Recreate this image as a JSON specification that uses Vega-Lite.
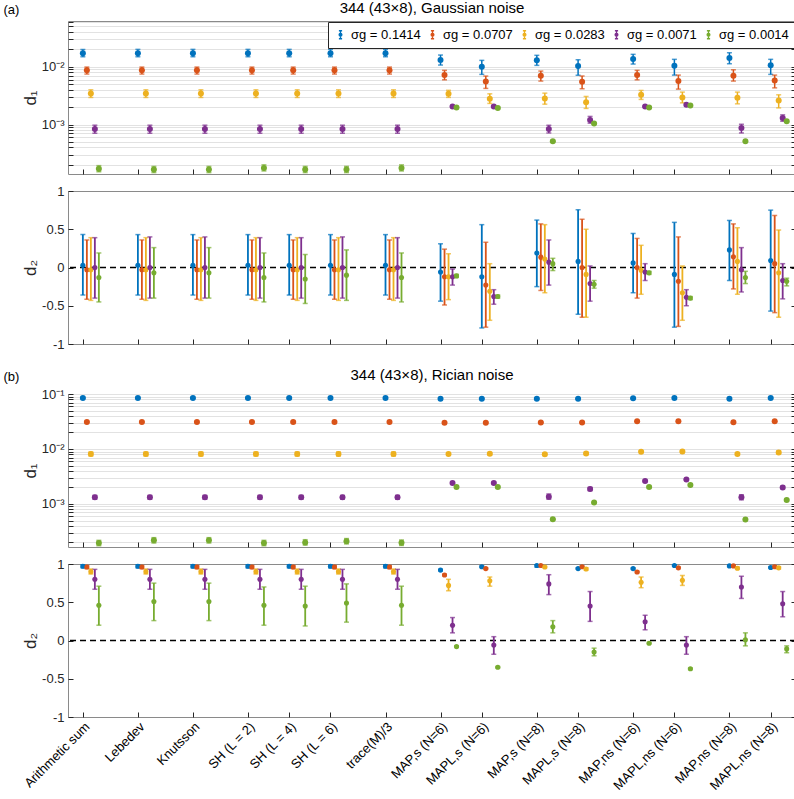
{
"$schema": "https://vega.github.io/schema/vega-lite/v6.json",
"background": "white",
"padding": {"left": 3, "top": 0, "right": 4, "bottom": 2},
"config": {
  "font": "Liberation Sans",
  "view": {"stroke": "#8a8a8a", "strokeWidth": 1},
  "axis": {"labelFontSize": 13, "labelColor": "#262626", "tickColor": "#262626", "domain": false, "titleFontSize": 17, "titleFontWeight": "normal", "titleColor": "#262626", "labelFont": "Liberation Sans", "titleFont": "Liberation Sans"},
  "axisLeft": {"titleX": -38, "titleBaseline": "middle"},
  "title": {"fontSize": 15, "fontWeight": "normal", "color": "#000000", "font": "Liberation Sans"}
},
"datasets": {
"g1": [
{"m":1,"s":"0.1414","v":0.0171,"lo":0.0149,"hi":0.02},{"m":1,"s":"0.0707","v":0.00866,"lo":0.00747,"hi":0.00988},{"m":1,"s":"0.0283","v":0.00345,"lo":0.00294,"hi":0.00399},{"m":1,"s":"0.0071","v":0.00084,"lo":0.000706,"hi":0.000973},{"m":1,"s":"0.0014","v":0.000172,"lo":0.000152,"hi":0.000194},
{"m":2,"s":"0.1414","v":0.0171,"lo":0.0149,"hi":0.02},{"m":2,"s":"0.0707","v":0.00866,"lo":0.00747,"hi":0.00988},{"m":2,"s":"0.0283","v":0.00345,"lo":0.00294,"hi":0.00399},{"m":2,"s":"0.0071","v":0.00084,"lo":0.000706,"hi":0.000973},{"m":2,"s":"0.0014","v":0.000166,"lo":0.000147,"hi":0.000188},
{"m":3,"s":"0.1414","v":0.0171,"lo":0.0149,"hi":0.02},{"m":3,"s":"0.0707","v":0.00866,"lo":0.00747,"hi":0.00988},{"m":3,"s":"0.0283","v":0.00345,"lo":0.00294,"hi":0.00399},{"m":3,"s":"0.0071","v":0.00084,"lo":0.000706,"hi":0.000973},{"m":3,"s":"0.0014","v":0.000166,"lo":0.000147,"hi":0.000188},
{"m":4,"s":"0.1414","v":0.0171,"lo":0.0149,"hi":0.02},{"m":4,"s":"0.0707","v":0.00866,"lo":0.00747,"hi":0.00988},{"m":4,"s":"0.0283","v":0.00345,"lo":0.00294,"hi":0.00399},{"m":4,"s":"0.0071","v":0.00084,"lo":0.000706,"hi":0.000973},{"m":4,"s":"0.0014","v":0.000177,"lo":0.000157,"hi":0.0002},
{"m":4.75,"s":"0.1414","v":0.0171,"lo":0.0149,"hi":0.02},{"m":4.75,"s":"0.0707","v":0.00866,"lo":0.00747,"hi":0.00988},{"m":4.75,"s":"0.0283","v":0.00345,"lo":0.00294,"hi":0.00399},{"m":4.75,"s":"0.0071","v":0.00084,"lo":0.000706,"hi":0.000973},{"m":4.75,"s":"0.0014","v":0.000166,"lo":0.000147,"hi":0.000188},
{"m":5.5,"s":"0.1414","v":0.0171,"lo":0.0149,"hi":0.02},{"m":5.5,"s":"0.0707","v":0.00866,"lo":0.00747,"hi":0.00988},{"m":5.5,"s":"0.0283","v":0.00345,"lo":0.00294,"hi":0.00399},{"m":5.5,"s":"0.0071","v":0.00084,"lo":0.000706,"hi":0.000973},{"m":5.5,"s":"0.0014","v":0.000166,"lo":0.000147,"hi":0.000188},
{"m":6.5,"s":"0.1414","v":0.0171,"lo":0.0149,"hi":0.02},{"m":6.5,"s":"0.0707","v":0.00866,"lo":0.00747,"hi":0.00988},{"m":6.5,"s":"0.0283","v":0.00345,"lo":0.00294,"hi":0.00399},{"m":6.5,"s":"0.0071","v":0.00084,"lo":0.000706,"hi":0.000973},{"m":6.5,"s":"0.0014","v":0.000177,"lo":0.000157,"hi":0.0002},
{"m":7.5,"s":"0.1414","v":0.01305,"lo":0.0107,"hi":0.01596},{"m":7.5,"s":"0.0707","v":0.00717,"lo":0.00594,"hi":0.00866},{"m":7.5,"s":"0.0283","v":0.0034,"lo":0.00295,"hi":0.00391},{"m":7.5,"s":"0.0071","v":0.00205,"lo":0.00199,"hi":0.00211},{"m":7.5,"s":"0.0014","v":0.00197,"lo":0.00191,"hi":0.00203},
{"m":8.25,"s":"0.1414","v":0.01,"lo":0.00738,"hi":0.0129},{"m":8.25,"s":"0.0707","v":0.00558,"lo":0.00422,"hi":0.0069},{"m":8.25,"s":"0.0283","v":0.00278,"lo":0.00232,"hi":0.0034},{"m":8.25,"s":"0.0071","v":0.00205,"lo":0.00199,"hi":0.00211},{"m":8.25,"s":"0.0014","v":0.00194,"lo":0.00188,"hi":0.002},
{"m":9.25,"s":"0.1414","v":0.0129,"lo":0.01057,"hi":0.01578},{"m":9.25,"s":"0.0707","v":0.00698,"lo":0.00565,"hi":0.00842},{"m":9.25,"s":"0.0283","v":0.00282,"lo":0.00225,"hi":0.00349},{"m":9.25,"s":"0.0071","v":0.00084,"lo":0.000714,"hi":0.00097},{"m":9.25,"s":"0.0014","v":0.000513,"lo":0.000498,"hi":0.000528},
{"m":10,"s":"0.1414","v":0.0103,"lo":0.0071,"hi":0.01324},{"m":10,"s":"0.0707","v":0.0055,"lo":0.00415,"hi":0.0069},{"m":10,"s":"0.0283","v":0.00244,"lo":0.0019,"hi":0.00306},{"m":10,"s":"0.0071","v":0.0012,"lo":0.001055,"hi":0.00138},{"m":10,"s":"0.0014","v":0.00104,"lo":0.00101,"hi":0.00107},
{"m":11,"s":"0.1414","v":0.0136,"lo":0.01114,"hi":0.0164},{"m":11,"s":"0.0707","v":0.00717,"lo":0.00594,"hi":0.00866},{"m":11,"s":"0.0283","v":0.00327,"lo":0.00272,"hi":0.00389},{"m":11,"s":"0.0071","v":0.00205,"lo":0.00199,"hi":0.00211},{"m":11,"s":"0.0014","v":0.00197,"lo":0.00191,"hi":0.00203},
{"m":11.75,"s":"0.1414","v":0.0104,"lo":0.00717,"hi":0.01344},{"m":11.75,"s":"0.0707","v":0.00565,"lo":0.0041,"hi":0.00717},{"m":11.75,"s":"0.0283","v":0.00294,"lo":0.00237,"hi":0.00364},{"m":11.75,"s":"0.0071","v":0.00219,"lo":0.00212,"hi":0.00226},{"m":11.75,"s":"0.0014","v":0.00214,"lo":0.00208,"hi":0.0022},
{"m":12.75,"s":"0.1414","v":0.01416,"lo":0.01128,"hi":0.0175},{"m":12.75,"s":"0.0707","v":0.00698,"lo":0.00565,"hi":0.00887},{"m":12.75,"s":"0.0283","v":0.0029,"lo":0.00228,"hi":0.00364},{"m":12.75,"s":"0.0071","v":0.000873,"lo":0.000714,"hi":0.00101},{"m":12.75,"s":"0.0014","v":0.000513,"lo":0.000498,"hi":0.000528},
{"m":13.5,"s":"0.1414","v":0.01057,"lo":0.00738,"hi":0.01344},{"m":13.5,"s":"0.0707","v":0.0058,"lo":0.00431,"hi":0.00717},{"m":13.5,"s":"0.0283","v":0.00261,"lo":0.00194,"hi":0.00327},{"m":13.5,"s":"0.0071","v":0.0013,"lo":0.00114,"hi":0.00147},{"m":13.5,"s":"0.0014","v":0.00114,"lo":0.0011,"hi":0.00118}
],
"g2": [
{"m":1,"s":"0.1414","v":0.03,"lo":-0.36,"hi":0.43},{"m":1,"s":"0.0707","v":-0.03,"lo":-0.415,"hi":0.36},{"m":1,"s":"0.0283","v":-0.03,"lo":-0.43,"hi":0.39},{"m":1,"s":"0.0071","v":0.0,"lo":-0.4,"hi":0.39},{"m":1,"s":"0.0014","v":-0.13,"lo":-0.45,"hi":0.19},
{"m":2,"s":"0.1414","v":0.03,"lo":-0.36,"hi":0.43},{"m":2,"s":"0.0707","v":-0.03,"lo":-0.415,"hi":0.36},{"m":2,"s":"0.0283","v":-0.03,"lo":-0.43,"hi":0.39},{"m":2,"s":"0.0071","v":0.0,"lo":-0.4,"hi":0.4},{"m":2,"s":"0.0014","v":-0.07,"lo":-0.4,"hi":0.26},
{"m":3,"s":"0.1414","v":0.03,"lo":-0.36,"hi":0.43},{"m":3,"s":"0.0707","v":-0.03,"lo":-0.415,"hi":0.36},{"m":3,"s":"0.0283","v":-0.03,"lo":-0.43,"hi":0.39},{"m":3,"s":"0.0071","v":0.0,"lo":-0.4,"hi":0.4},{"m":3,"s":"0.0014","v":-0.07,"lo":-0.4,"hi":0.26},
{"m":4,"s":"0.1414","v":0.03,"lo":-0.36,"hi":0.43},{"m":4,"s":"0.0707","v":-0.03,"lo":-0.415,"hi":0.36},{"m":4,"s":"0.0283","v":-0.03,"lo":-0.43,"hi":0.39},{"m":4,"s":"0.0071","v":0.0,"lo":-0.4,"hi":0.39},{"m":4,"s":"0.0014","v":-0.13,"lo":-0.45,"hi":0.19},
{"m":4.75,"s":"0.1414","v":0.03,"lo":-0.36,"hi":0.43},{"m":4.75,"s":"0.0707","v":-0.03,"lo":-0.415,"hi":0.36},{"m":4.75,"s":"0.0283","v":-0.03,"lo":-0.43,"hi":0.39},{"m":4.75,"s":"0.0071","v":0.0,"lo":-0.4,"hi":0.39},{"m":4.75,"s":"0.0014","v":-0.15,"lo":-0.47,"hi":0.17},
{"m":5.5,"s":"0.1414","v":0.03,"lo":-0.36,"hi":0.43},{"m":5.5,"s":"0.0707","v":-0.03,"lo":-0.415,"hi":0.36},{"m":5.5,"s":"0.0283","v":-0.03,"lo":-0.43,"hi":0.39},{"m":5.5,"s":"0.0071","v":0.0,"lo":-0.4,"hi":0.4},{"m":5.5,"s":"0.0014","v":-0.1,"lo":-0.43,"hi":0.23},
{"m":6.5,"s":"0.1414","v":0.03,"lo":-0.36,"hi":0.43},{"m":6.5,"s":"0.0707","v":-0.03,"lo":-0.415,"hi":0.36},{"m":6.5,"s":"0.0283","v":-0.03,"lo":-0.43,"hi":0.39},{"m":6.5,"s":"0.0071","v":0.0,"lo":-0.4,"hi":0.39},{"m":6.5,"s":"0.0014","v":-0.13,"lo":-0.45,"hi":0.19},
{"m":7.5,"s":"0.1414","v":-0.06,"lo":-0.44,"hi":0.31},{"m":7.5,"s":"0.0707","v":-0.12,"lo":-0.49,"hi":0.24},{"m":7.5,"s":"0.0283","v":-0.12,"lo":-0.42,"hi":0.18},{"m":7.5,"s":"0.0071","v":-0.12,"lo":-0.23,"hi":-0.02},{"m":7.5,"s":"0.0014","v":-0.11,"lo":-0.13,"hi":-0.09},
{"m":8.25,"s":"0.1414","v":-0.12,"lo":-0.79,"hi":0.56},{"m":8.25,"s":"0.0707","v":-0.23,"lo":-0.78,"hi":0.33},{"m":8.25,"s":"0.0283","v":-0.31,"lo":-0.69,"hi":0.05},{"m":8.25,"s":"0.0071","v":-0.38,"lo":-0.48,"hi":-0.29},{"m":8.25,"s":"0.0014","v":-0.38,"lo":-0.4,"hi":-0.36},
{"m":9.25,"s":"0.1414","v":0.19,"lo":-0.25,"hi":0.62},{"m":9.25,"s":"0.0707","v":0.135,"lo":-0.3,"hi":0.57},{"m":9.25,"s":"0.0283","v":0.11,"lo":-0.33,"hi":0.56},{"m":9.25,"s":"0.0071","v":0.07,"lo":-0.23,"hi":0.36},{"m":9.25,"s":"0.0014","v":0.05,"lo":-0.04,"hi":0.12},
{"m":10,"s":"0.1414","v":0.08,"lo":-0.61,"hi":0.755},{"m":10,"s":"0.0707","v":0.0,"lo":-0.65,"hi":0.63},{"m":10,"s":"0.0283","v":-0.09,"lo":-0.65,"hi":0.5},{"m":10,"s":"0.0071","v":-0.21,"lo":-0.44,"hi":0.02},{"m":10,"s":"0.0014","v":-0.22,"lo":-0.27,"hi":-0.17},
{"m":11,"s":"0.1414","v":0.06,"lo":-0.33,"hi":0.445},{"m":11,"s":"0.0707","v":0.0,"lo":-0.4,"hi":0.38},{"m":11,"s":"0.0283","v":-0.035,"lo":-0.35,"hi":0.29},{"m":11,"s":"0.0071","v":-0.06,"lo":-0.17,"hi":0.05},{"m":11,"s":"0.0014","v":-0.07,"lo":-0.09,"hi":-0.05},
{"m":11.75,"s":"0.1414","v":-0.09,"lo":-0.78,"hi":0.59},{"m":11.75,"s":"0.0707","v":-0.18,"lo":-0.77,"hi":0.4},{"m":11.75,"s":"0.0283","v":-0.33,"lo":-0.69,"hi":0.02},{"m":11.75,"s":"0.0071","v":-0.39,"lo":-0.5,"hi":-0.29},{"m":11.75,"s":"0.0014","v":-0.4,"lo":-0.42,"hi":-0.38},
{"m":12.75,"s":"0.1414","v":0.23,"lo":-0.17,"hi":0.615},{"m":12.75,"s":"0.0707","v":0.14,"lo":-0.28,"hi":0.57},{"m":12.75,"s":"0.0283","v":0.08,"lo":-0.35,"hi":0.52},{"m":12.75,"s":"0.0071","v":-0.03,"lo":-0.32,"hi":0.26},{"m":12.75,"s":"0.0014","v":-0.13,"lo":-0.21,"hi":-0.05},
{"m":13.5,"s":"0.1414","v":0.09,"lo":-0.57,"hi":0.75},{"m":13.5,"s":"0.0707","v":0.05,"lo":-0.59,"hi":0.68},{"m":13.5,"s":"0.0283","v":-0.07,"lo":-0.65,"hi":0.49},{"m":13.5,"s":"0.0071","v":-0.17,"lo":-0.41,"hi":0.05},{"m":13.5,"s":"0.0014","v":-0.18,"lo":-0.24,"hi":-0.14}
],
"r1": [
{"m":1,"s":"0.1414","v":0.0845,"lo":0.0828,"hi":0.0862},{"m":1,"s":"0.0707","v":0.031,"lo":0.0304,"hi":0.0316},{"m":1,"s":"0.0283","v":0.0081,"lo":0.00745,"hi":0.0088},{"m":1,"s":"0.0071","v":0.00132,"lo":0.00122,"hi":0.00143},{"m":1,"s":"0.0014","v":0.000195,"lo":0.000174,"hi":0.000218},
{"m":2,"s":"0.1414","v":0.0845,"lo":0.0828,"hi":0.0862},{"m":2,"s":"0.0707","v":0.031,"lo":0.0304,"hi":0.0316},{"m":2,"s":"0.0283","v":0.0081,"lo":0.00745,"hi":0.0088},{"m":2,"s":"0.0071","v":0.00132,"lo":0.00122,"hi":0.00143},{"m":2,"s":"0.0014","v":0.000218,"lo":0.000195,"hi":0.000244},
{"m":3,"s":"0.1414","v":0.0845,"lo":0.0828,"hi":0.0862},{"m":3,"s":"0.0707","v":0.031,"lo":0.0304,"hi":0.0316},{"m":3,"s":"0.0283","v":0.0081,"lo":0.00745,"hi":0.0088},{"m":3,"s":"0.0071","v":0.00132,"lo":0.00122,"hi":0.00143},{"m":3,"s":"0.0014","v":0.000218,"lo":0.000195,"hi":0.000244},
{"m":4,"s":"0.1414","v":0.0845,"lo":0.0828,"hi":0.0862},{"m":4,"s":"0.0707","v":0.031,"lo":0.0304,"hi":0.0316},{"m":4,"s":"0.0283","v":0.0081,"lo":0.00745,"hi":0.0088},{"m":4,"s":"0.0071","v":0.00132,"lo":0.00122,"hi":0.00143},{"m":4,"s":"0.0014","v":0.000195,"lo":0.000174,"hi":0.000218},
{"m":4.75,"s":"0.1414","v":0.0845,"lo":0.0828,"hi":0.0862},{"m":4.75,"s":"0.0707","v":0.031,"lo":0.0304,"hi":0.0316},{"m":4.75,"s":"0.0283","v":0.0081,"lo":0.00745,"hi":0.0088},{"m":4.75,"s":"0.0071","v":0.00132,"lo":0.00122,"hi":0.00143},{"m":4.75,"s":"0.0014","v":0.0002,"lo":0.000179,"hi":0.000224},
{"m":5.5,"s":"0.1414","v":0.0845,"lo":0.0828,"hi":0.0862},{"m":5.5,"s":"0.0707","v":0.031,"lo":0.0304,"hi":0.0316},{"m":5.5,"s":"0.0283","v":0.0081,"lo":0.00745,"hi":0.0088},{"m":5.5,"s":"0.0071","v":0.00132,"lo":0.00122,"hi":0.00143},{"m":5.5,"s":"0.0014","v":0.00021,"lo":0.000188,"hi":0.000235},
{"m":6.5,"s":"0.1414","v":0.0845,"lo":0.0828,"hi":0.0862},{"m":6.5,"s":"0.0707","v":0.031,"lo":0.0304,"hi":0.0316},{"m":6.5,"s":"0.0283","v":0.0081,"lo":0.00745,"hi":0.0088},{"m":6.5,"s":"0.0071","v":0.00132,"lo":0.00122,"hi":0.00143},{"m":6.5,"s":"0.0014","v":0.000197,"lo":0.000176,"hi":0.000221},
{"m":7.5,"s":"0.1414","v":0.0822,"lo":0.0805,"hi":0.0839},{"m":7.5,"s":"0.0707","v":0.0301,"lo":0.0295,"hi":0.0307},{"m":7.5,"s":"0.0283","v":0.0081,"lo":0.0077,"hi":0.0085},{"m":7.5,"s":"0.0071","v":0.00241,"lo":0.00233,"hi":0.00249},{"m":7.5,"s":"0.0014","v":0.00204,"lo":0.00198,"hi":0.0021},
{"m":8.25,"s":"0.1414","v":0.0822,"lo":0.0805,"hi":0.0839},{"m":8.25,"s":"0.0707","v":0.0301,"lo":0.0295,"hi":0.0307},{"m":8.25,"s":"0.0283","v":0.0082,"lo":0.0078,"hi":0.0086},{"m":8.25,"s":"0.0071","v":0.00241,"lo":0.00233,"hi":0.00249},{"m":8.25,"s":"0.0014","v":0.00203,"lo":0.00197,"hi":0.00209},
{"m":9.25,"s":"0.1414","v":0.0822,"lo":0.0805,"hi":0.0839},{"m":9.25,"s":"0.0707","v":0.0304,"lo":0.0298,"hi":0.031},{"m":9.25,"s":"0.0283","v":0.008,"lo":0.0076,"hi":0.0084},{"m":9.25,"s":"0.0071","v":0.00136,"lo":0.00122,"hi":0.00152},{"m":9.25,"s":"0.0014","v":0.000525,"lo":0.00051,"hi":0.00054},
{"m":10,"s":"0.1414","v":0.0822,"lo":0.0805,"hi":0.0839},{"m":10,"s":"0.0707","v":0.0304,"lo":0.0298,"hi":0.031},{"m":10,"s":"0.0283","v":0.0083,"lo":0.0079,"hi":0.0087},{"m":10,"s":"0.0071","v":0.00187,"lo":0.00175,"hi":0.002},{"m":10,"s":"0.0014","v":0.00106,"lo":0.00103,"hi":0.00109},
{"m":11,"s":"0.1414","v":0.0835,"lo":0.0818,"hi":0.0852},{"m":11,"s":"0.0707","v":0.0318,"lo":0.0312,"hi":0.0324},{"m":11,"s":"0.0283","v":0.00893,"lo":0.0087,"hi":0.0092},{"m":11,"s":"0.0071","v":0.00262,"lo":0.00254,"hi":0.0027},{"m":11,"s":"0.0014","v":0.00203,"lo":0.00197,"hi":0.00209},
{"m":11.75,"s":"0.1414","v":0.0845,"lo":0.0828,"hi":0.0862},{"m":11.75,"s":"0.0707","v":0.0318,"lo":0.0312,"hi":0.0324},{"m":11.75,"s":"0.0283","v":0.009,"lo":0.0086,"hi":0.0094},{"m":11.75,"s":"0.0071","v":0.0028,"lo":0.00272,"hi":0.00288},{"m":11.75,"s":"0.0014","v":0.00221,"lo":0.00215,"hi":0.00227},
{"m":12.75,"s":"0.1414","v":0.0822,"lo":0.0805,"hi":0.0839},{"m":12.75,"s":"0.0707","v":0.0307,"lo":0.0301,"hi":0.0313},{"m":12.75,"s":"0.0283","v":0.0081,"lo":0.0077,"hi":0.0085},{"m":12.75,"s":"0.0071","v":0.00132,"lo":0.00119,"hi":0.00147},{"m":12.75,"s":"0.0014","v":0.00052,"lo":0.000505,"hi":0.000535},
{"m":13.5,"s":"0.1414","v":0.0845,"lo":0.0828,"hi":0.0862},{"m":13.5,"s":"0.0707","v":0.0318,"lo":0.0312,"hi":0.0324},{"m":13.5,"s":"0.0283","v":0.00867,"lo":0.0082,"hi":0.0092},{"m":13.5,"s":"0.0071","v":0.002,"lo":0.0019,"hi":0.0021},{"m":13.5,"s":"0.0014","v":0.00118,"lo":0.00114,"hi":0.00122}
],
"r2": [
{"m":1,"s":"0.1414","v":0.97,"lo":0.95,"hi":0.99},{"m":1,"s":"0.0707","v":0.96,"lo":0.94,"hi":0.98},{"m":1,"s":"0.0283","v":0.9,"lo":0.87,"hi":0.935},{"m":1,"s":"0.0071","v":0.8,"lo":0.67,"hi":0.93},{"m":1,"s":"0.0014","v":0.46,"lo":0.2,"hi":0.71},
{"m":2,"s":"0.1414","v":0.97,"lo":0.95,"hi":0.99},{"m":2,"s":"0.0707","v":0.96,"lo":0.94,"hi":0.98},{"m":2,"s":"0.0283","v":0.9,"lo":0.87,"hi":0.935},{"m":2,"s":"0.0071","v":0.8,"lo":0.67,"hi":0.93},{"m":2,"s":"0.0014","v":0.51,"lo":0.26,"hi":0.75},
{"m":3,"s":"0.1414","v":0.97,"lo":0.95,"hi":0.99},{"m":3,"s":"0.0707","v":0.96,"lo":0.94,"hi":0.98},{"m":3,"s":"0.0283","v":0.9,"lo":0.87,"hi":0.935},{"m":3,"s":"0.0071","v":0.8,"lo":0.67,"hi":0.93},{"m":3,"s":"0.0014","v":0.51,"lo":0.26,"hi":0.75},
{"m":4,"s":"0.1414","v":0.97,"lo":0.95,"hi":0.99},{"m":4,"s":"0.0707","v":0.96,"lo":0.94,"hi":0.98},{"m":4,"s":"0.0283","v":0.9,"lo":0.87,"hi":0.935},{"m":4,"s":"0.0071","v":0.8,"lo":0.67,"hi":0.93},{"m":4,"s":"0.0014","v":0.46,"lo":0.2,"hi":0.7},
{"m":4.75,"s":"0.1414","v":0.97,"lo":0.95,"hi":0.99},{"m":4.75,"s":"0.0707","v":0.96,"lo":0.94,"hi":0.98},{"m":4.75,"s":"0.0283","v":0.9,"lo":0.87,"hi":0.935},{"m":4.75,"s":"0.0071","v":0.8,"lo":0.67,"hi":0.93},{"m":4.75,"s":"0.0014","v":0.45,"lo":0.19,"hi":0.71},
{"m":5.5,"s":"0.1414","v":0.97,"lo":0.95,"hi":0.99},{"m":5.5,"s":"0.0707","v":0.96,"lo":0.94,"hi":0.98},{"m":5.5,"s":"0.0283","v":0.9,"lo":0.87,"hi":0.935},{"m":5.5,"s":"0.0071","v":0.8,"lo":0.67,"hi":0.93},{"m":5.5,"s":"0.0014","v":0.49,"lo":0.24,"hi":0.74},
{"m":6.5,"s":"0.1414","v":0.97,"lo":0.95,"hi":0.99},{"m":6.5,"s":"0.0707","v":0.96,"lo":0.94,"hi":0.98},{"m":6.5,"s":"0.0283","v":0.9,"lo":0.87,"hi":0.935},{"m":6.5,"s":"0.0071","v":0.8,"lo":0.67,"hi":0.93},{"m":6.5,"s":"0.0014","v":0.46,"lo":0.2,"hi":0.71},
{"m":7.5,"s":"0.1414","v":0.92,"lo":0.91,"hi":0.93},{"m":7.5,"s":"0.0707","v":0.856,"lo":0.845,"hi":0.867},{"m":7.5,"s":"0.0283","v":0.72,"lo":0.65,"hi":0.8},{"m":7.5,"s":"0.0071","v":0.2,"lo":0.1,"hi":0.3},{"m":7.5,"s":"0.0014","v":-0.08,"lo":-0.09,"hi":-0.07},
{"m":8.25,"s":"0.1414","v":0.965,"lo":0.955,"hi":0.975},{"m":8.25,"s":"0.0707","v":0.94,"lo":0.93,"hi":0.95},{"m":8.25,"s":"0.0283","v":0.78,"lo":0.71,"hi":0.83},{"m":8.25,"s":"0.0071","v":-0.06,"lo":-0.18,"hi":0.05},{"m":8.25,"s":"0.0014","v":-0.35,"lo":-0.36,"hi":-0.34},
{"m":9.25,"s":"0.1414","v":0.98,"lo":0.96,"hi":0.99},{"m":9.25,"s":"0.0707","v":0.98,"lo":0.97,"hi":0.99},{"m":9.25,"s":"0.0283","v":0.96,"lo":0.95,"hi":0.97},{"m":9.25,"s":"0.0071","v":0.74,"lo":0.6,"hi":0.86},{"m":9.25,"s":"0.0014","v":0.18,"lo":0.1,"hi":0.26},
{"m":10,"s":"0.1414","v":0.94,"lo":0.93,"hi":0.95},{"m":10,"s":"0.0707","v":0.965,"lo":0.955,"hi":0.975},{"m":10,"s":"0.0283","v":0.935,"lo":0.92,"hi":0.95},{"m":10,"s":"0.0071","v":0.45,"lo":0.25,"hi":0.64},{"m":10,"s":"0.0014","v":-0.15,"lo":-0.2,"hi":-0.1},
{"m":11,"s":"0.1414","v":0.94,"lo":0.93,"hi":0.95},{"m":11,"s":"0.0707","v":0.895,"lo":0.885,"hi":0.905},{"m":11,"s":"0.0283","v":0.76,"lo":0.69,"hi":0.83},{"m":11,"s":"0.0071","v":0.245,"lo":0.14,"hi":0.33},{"m":11,"s":"0.0014","v":-0.035,"lo":-0.045,"hi":-0.025},
{"m":11.75,"s":"0.1414","v":0.98,"lo":0.97,"hi":0.99},{"m":11.75,"s":"0.0707","v":0.95,"lo":0.94,"hi":0.96},{"m":11.75,"s":"0.0283","v":0.786,"lo":0.72,"hi":0.85},{"m":11.75,"s":"0.0071","v":-0.06,"lo":-0.18,"hi":0.05},{"m":11.75,"s":"0.0014","v":-0.37,"lo":-0.38,"hi":-0.36},
{"m":12.75,"s":"0.1414","v":0.975,"lo":0.965,"hi":0.985},{"m":12.75,"s":"0.0707","v":0.975,"lo":0.965,"hi":0.985},{"m":12.75,"s":"0.0283","v":0.945,"lo":0.93,"hi":0.96},{"m":12.75,"s":"0.0071","v":0.7,"lo":0.55,"hi":0.84},{"m":12.75,"s":"0.0014","v":0.01,"lo":-0.07,"hi":0.1},
{"m":13.5,"s":"0.1414","v":0.955,"lo":0.945,"hi":0.965},{"m":13.5,"s":"0.0707","v":0.965,"lo":0.955,"hi":0.975},{"m":13.5,"s":"0.0283","v":0.95,"lo":0.935,"hi":0.965},{"m":13.5,"s":"0.0071","v":0.48,"lo":0.31,"hi":0.64},{"m":13.5,"s":"0.0014","v":-0.11,"lo":-0.16,"hi":-0.07}
]
},
"resolve": {"legend": {"color": "independent"}},
"spacing": 15,
"vconcat": [
{
 "title": {"text": "(a)", "anchor": "start", "frame": "bounds", "fontSize": 13, "offset": -16, "dx": -17},
 "resolve": {"legend": {"color": "independent"}},
 "bounds": "flush",
 "spacing": 17,
 "vconcat": [
  {
   "width": 728, "height": 153,
   "title": {"text": "344 (43×8), Gaussian noise", "offset": 5},
   "data": {"name": "g1"},
   "resolve": {"axis": {"y": "independent"}},
   "encoding": {
     "x": {"field": "m", "type": "quantitative", "scale": {"domain": [0.73, 13.96], "nice": false, "zero": false}, "axis": {"values": [1,2,3,4,4.75,5.5,6.5,7.5,8.25,9.25,10,11,11.75,12.75,13.5], "labels": false, "tickSize": -5, "grid": false, "title": null}},
     "color": {"field": "s", "type": "nominal", "scale": {"domain": ["0.1414","0.0707","0.0283","0.0071","0.0014"], "range": ["#0072BD","#D95319","#EDB120","#7E2F8E","#77AC30"]},
       "legend": {"orient": "top-right", "direction": "horizontal", "columns": 5, "title": null, "labelExpr": "'σg = ' + datum.label", "labelFontSize": 13, "labelColor": "#000000", "fillColor": "white", "strokeColor": "#262626", "padding": 6, "offset": 1, "symbolType": "M0,-1V1M-0.4,-1H0.4M-0.4,1H0.4M-0.35,0A0.35,0.35 0 1,0 0.35,0A0.35,0.35 0 1,0 -0.35,0Z", "symbolSize": 64, "symbolStrokeWidth": 1.3, "columnPadding": 5, "labelLimit": 200,
         "encode": {"symbols": {"update": {"stroke": {"scale": "color", "field": "value"}}}}}}
   },
   "layer": [
     {"mark": {"type": "rule", "strokeWidth": 1.5, "xOffset": {"expr": "indexof(['0.1414','0.0707','0.0283','0.0071','0.0014'], datum.s) * 4"}}, "encoding": {"y": {"field": "lo", "type": "quantitative", "scale": {"type": "log", "domain": [0.000139, 0.062], "nice": false}, "axis": {"title": "d₁", "values": [0.0002,0.0003,0.0004,0.0005,0.0006,0.0007,0.0008,0.0009,0.001,0.002,0.003,0.004,0.005,0.006,0.007,0.008,0.009,0.01,0.02,0.03,0.04,0.05,0.06], "labelExpr": "datum.value == 0.01 ? '10⁻²' : datum.value == 0.001 ? '10⁻³' : ''", "grid": true, "gridColor": "#e2e2e2", "tickSize": -5, "labelPadding": 9}}, "y2": {"field": "hi"}}},
     {"transform": [{"fold": ["lo", "hi"], "as": ["k", "e"]}], "mark": {"type": "tick", "orient": "horizontal", "size": 5, "thickness": 1.5, "xOffset": {"expr": "indexof(['0.1414','0.0707','0.0283','0.0071','0.0014'], datum.s) * 4"}}, "encoding": {"y": {"field": "e", "type": "quantitative", "scale": {"type": "log", "domain": [0.000139, 0.062], "nice": false}, "axis": null}}},
     {"mark": {"type": "point", "filled": true, "size": 36, "opacity": 1, "xOffset": {"expr": "indexof(['0.1414','0.0707','0.0283','0.0071','0.0014'], datum.s) * 4"}}, "encoding": {"y": {"field": "v", "type": "quantitative", "scale": {"type": "log", "domain": [0.000139, 0.062], "nice": false}, "axis": {"orient": "right", "title": null, "labels": false, "grid": false, "tickSize": -5, "values": [0.0002,0.0003,0.0004,0.0005,0.0006,0.0007,0.0008,0.0009,0.001,0.002,0.003,0.004,0.005,0.006,0.007,0.008,0.009,0.01,0.02,0.03,0.04,0.05,0.06]}}}}
   ]
  },
  {
   "width": 728, "height": 153,
   "resolve": {"axis": {"y": "independent"}},
   "layer": [
     {"data": {"values": [{}]}, "mark": {"type": "rule", "strokeDash": [6, 4], "color": "black", "strokeWidth": 1.5}, "encoding": {"y": {"datum": 0, "type": "quantitative", "scale": {"domain": [-1, 1], "nice": false}, "axis": {"title": "d₂", "values": [-1,-0.5,0,0.5,1], "labelExpr": "'' + datum.value", "grid": false, "tickSize": -5, "labelPadding": 9}}}},
     {
      "data": {"name": "g2"},
      "resolve": {"axis": {"y": "independent"}},
      "encoding": {
        "x": {"field": "m", "type": "quantitative", "scale": {"domain": [0.73, 13.96], "nice": false, "zero": false}, "axis": {"values": [1,2,3,4,4.75,5.5,6.5,7.5,8.25,9.25,10,11,11.75,12.75,13.5], "labels": false, "tickSize": -5, "grid": false, "title": null}},
        "color": {"field": "s", "type": "nominal", "legend": null}
      },
      "layer": [
        {"mark": {"type": "rule", "strokeWidth": 1.8, "xOffset": {"expr": "indexof(['0.1414','0.0707','0.0283','0.0071','0.0014'], datum.s) * 4"}}, "encoding": {"y": {"field": "lo", "type": "quantitative", "scale": {"domain": [-1, 1], "nice": false}, "axis": null}, "y2": {"field": "hi"}}},
        {"transform": [{"fold": ["lo", "hi"], "as": ["k", "e"]}], "mark": {"type": "tick", "orient": "horizontal", "size": 5, "thickness": 1.5, "xOffset": {"expr": "indexof(['0.1414','0.0707','0.0283','0.0071','0.0014'], datum.s) * 4"}}, "encoding": {"y": {"field": "e", "type": "quantitative", "scale": {"domain": [-1, 1], "nice": false}, "axis": null}}},
        {"mark": {"type": "point", "filled": true, "size": 26, "opacity": 1, "xOffset": {"expr": "indexof(['0.1414','0.0707','0.0283','0.0071','0.0014'], datum.s) * 4"}}, "encoding": {"y": {"field": "v", "type": "quantitative", "scale": {"domain": [-1, 1], "nice": false}, "axis": {"orient": "right", "title": null, "labels": false, "grid": false, "tickSize": -5, "values": [-1,-0.5,0,0.5,1]}}}}
      ]
     }
   ]
  }
 ]
},
{
 "title": {"text": "(b)", "anchor": "start", "frame": "bounds", "fontSize": 13, "offset": -16, "dx": -17},
 "resolve": {"legend": {"color": "independent"}},
 "bounds": "flush",
 "spacing": 17,
 "vconcat": [
  {
   "width": 728, "height": 153,
   "title": {"text": "344 (43×8), Rician noise", "offset": 5},
   "data": {"name": "r1"},
   "resolve": {"axis": {"y": "independent"}},
   "encoding": {
     "x": {"field": "m", "type": "quantitative", "scale": {"domain": [0.73, 13.96], "nice": false, "zero": false}, "axis": {"values": [1,2,3,4,4.75,5.5,6.5,7.5,8.25,9.25,10,11,11.75,12.75,13.5], "labels": false, "tickSize": -5, "grid": false, "title": null}},
     "color": {"field": "s", "type": "nominal", "legend": null}
   },
   "layer": [
     {"mark": {"type": "rule", "strokeWidth": 1.5, "xOffset": {"expr": "indexof(['0.1414','0.0707','0.0283','0.0071','0.0014'], datum.s) * 4"}}, "encoding": {"y": {"field": "lo", "type": "quantitative", "scale": {"type": "log", "domain": [0.000165, 0.1], "nice": false}, "axis": {"title": "d₁", "values": [0.0002,0.0003,0.0004,0.0005,0.0006,0.0007,0.0008,0.0009,0.001,0.002,0.003,0.004,0.005,0.006,0.007,0.008,0.009,0.01,0.02,0.03,0.04,0.05,0.06,0.07,0.08,0.09,0.1], "labelExpr": "datum.value == 0.1 ? '10⁻¹' : datum.value == 0.01 ? '10⁻²' : datum.value == 0.001 ? '10⁻³' : ''", "grid": true, "gridColor": "#e2e2e2", "tickSize": -5, "labelPadding": 9}}, "y2": {"field": "hi"}}},
     {"transform": [{"fold": ["lo", "hi"], "as": ["k", "e"]}], "mark": {"type": "tick", "orient": "horizontal", "size": 5, "thickness": 1.5, "xOffset": {"expr": "indexof(['0.1414','0.0707','0.0283','0.0071','0.0014'], datum.s) * 4"}}, "encoding": {"y": {"field": "e", "type": "quantitative", "scale": {"type": "log", "domain": [0.000165, 0.1], "nice": false}, "axis": null}}},
     {"mark": {"type": "point", "filled": true, "size": 36, "opacity": 1, "xOffset": {"expr": "indexof(['0.1414','0.0707','0.0283','0.0071','0.0014'], datum.s) * 4"}}, "encoding": {"y": {"field": "v", "type": "quantitative", "scale": {"type": "log", "domain": [0.000165, 0.1], "nice": false}, "axis": {"orient": "right", "title": null, "labels": false, "grid": false, "tickSize": -5, "values": [0.0002,0.0003,0.0004,0.0005,0.0006,0.0007,0.0008,0.0009,0.001,0.002,0.003,0.004,0.005,0.006,0.007,0.008,0.009,0.01,0.02,0.03,0.04,0.05,0.06,0.07,0.08,0.09,0.1]}}}}
   ]
  },
  {
   "width": 728, "height": 153,
   "resolve": {"axis": {"y": "independent"}},
   "layer": [
     {"data": {"values": [{}]}, "mark": {"type": "rule", "strokeDash": [6, 4], "color": "black", "strokeWidth": 1.5}, "encoding": {"y": {"datum": 0, "type": "quantitative", "scale": {"domain": [-1, 1], "nice": false}, "axis": {"title": "d₂", "values": [-1,-0.5,0,0.5,1], "labelExpr": "'' + datum.value", "grid": false, "tickSize": -5, "labelPadding": 9}}}},
     {
      "data": {"name": "r2"},
      "resolve": {"axis": {"y": "independent"}},
      "encoding": {
        "x": {"field": "m", "type": "quantitative", "scale": {"domain": [0.73, 13.96], "nice": false, "zero": false}, "axis": {"values": [1,2,3,4,4.75,5.5,6.5,7.5,8.25,9.25,10,11,11.75,12.75,13.5], "labelExpr": "['Arithmetic sum','Lebedev','Knutsson','SH (L = 2)','SH (L = 4)','SH (L = 6)','trace(M)/3','MAP,s (N=6)','MAPL,s (N=6)','MAP,s (N=8)','MAPL,s (N=8)','MAP,ns (N=6)','MAPL,ns (N=6)','MAP,ns (N=8)','MAPL,ns (N=8)'][indexof([1,2,3,4,4.75,5.5,6.5,7.5,8.25,9.25,10,11,11.75,12.75,13.5], datum.value)]", "labelAngle": -45, "labelFontSize": 13, "labelColor": "#000000", "tickSize": -5, "labelPadding": 8, "grid": false, "title": null, "labelOverlap": false, "labelLimit": 200}},
        "color": {"field": "s", "type": "nominal", "legend": null}
      },
      "layer": [
        {"mark": {"type": "rule", "strokeWidth": 1.8, "xOffset": {"expr": "indexof(['0.1414','0.0707','0.0283','0.0071','0.0014'], datum.s) * 4"}}, "encoding": {"y": {"field": "lo", "type": "quantitative", "scale": {"domain": [-1, 1], "nice": false}, "axis": null}, "y2": {"field": "hi"}}},
        {"transform": [{"fold": ["lo", "hi"], "as": ["k", "e"]}], "mark": {"type": "tick", "orient": "horizontal", "size": 5, "thickness": 1.5, "xOffset": {"expr": "indexof(['0.1414','0.0707','0.0283','0.0071','0.0014'], datum.s) * 4"}}, "encoding": {"y": {"field": "e", "type": "quantitative", "scale": {"domain": [-1, 1], "nice": false}, "axis": null}}},
        {"mark": {"type": "point", "filled": true, "size": 26, "opacity": 1, "xOffset": {"expr": "indexof(['0.1414','0.0707','0.0283','0.0071','0.0014'], datum.s) * 4"}}, "encoding": {"y": {"field": "v", "type": "quantitative", "scale": {"domain": [-1, 1], "nice": false}, "axis": {"orient": "right", "title": null, "labels": false, "grid": false, "tickSize": -5, "values": [-1,-0.5,0,0.5,1]}}}}
      ]
     }
   ]
  }
 ]
}
]
}
